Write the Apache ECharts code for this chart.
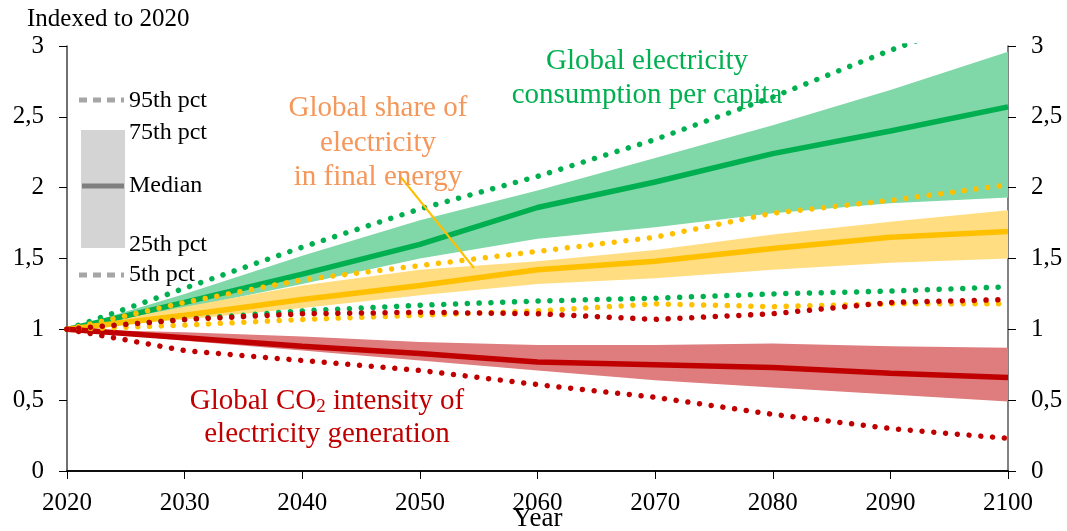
<!DOCTYPE html>
<html>
<head>
<meta charset="utf-8">
<script src="https://cdn.jsdelivr.net/npm/echarts@6/dist/echarts.min.js"></script>
<style>
html,body{margin:0;padding:0;background:#fff;}
#c{width:1067px;height:531px;}
</style>
</head>
<body>
<div id="c"></div>
<script>
const years = [2020, 2030, 2040, 2050, 2060, 2070, 2080, 2090, 2100];
const yTicks = [0, 0.5, 1, 1.5, 2, 2.5, 3];

// Global electricity consumption per capita
const greenMedian = [1, 1.19, 1.39, 1.60, 1.86, 2.04, 2.24, 2.40, 2.57];
const greenP75    = [1, 1.25, 1.52, 1.77, 1.98, 2.21, 2.44, 2.69, 2.96];
const greenP25    = [1, 1.15, 1.32, 1.50, 1.64, 1.72, 1.82, 1.89, 1.93];
const greenP95    = [1, 1.29, 1.58, 1.85, 2.08, 2.34, 2.64, 2.97, 3.27];
const greenP5     = [1, 1.07, 1.13, 1.17, 1.20, 1.22, 1.25, 1.27, 1.30];

// Global share of electricity in final energy
const orangeMedian = [1, 1.10, 1.21, 1.31, 1.42, 1.48, 1.57, 1.65, 1.69];
const orangeP75    = [1, 1.16, 1.31, 1.42, 1.48, 1.56, 1.67, 1.76, 1.84];
const orangeP25    = [1, 1.07, 1.15, 1.24, 1.32, 1.36, 1.42, 1.47, 1.50];
const orangeP95    = [1, 1.19, 1.35, 1.45, 1.55, 1.65, 1.82, 1.91, 2.02];
const orangeP5     = [1, 1.03, 1.07, 1.10, 1.13, 1.18, 1.16, 1.18, 1.18];

// Global CO2 intensity of electricity generation
const redMedian = [1, 0.94, 0.88, 0.83, 0.77, 0.75, 0.73, 0.69, 0.66];
const redP75    = [1, 0.98, 0.95, 0.91, 0.89, 0.89, 0.90, 0.88, 0.87];
const redP25    = [1, 0.92, 0.85, 0.78, 0.71, 0.64, 0.59, 0.54, 0.49];
const redP95    = [1, 1.07, 1.11, 1.12, 1.11, 1.07, 1.11, 1.19, 1.21];
const redP5     = [1, 0.85, 0.78, 0.71, 0.61, 0.52, 0.40, 0.30, 0.23];

const FONT = '"Liberation Serif", "Times New Roman", serif';
const pairs = arr => years.map((y, i) => [y, arr[i]]);

function band(name, lower, upper, color) {
  return {
    name: name, type: 'custom', silent: true, z: 1, clip: true,
    data: years.map((y, i) => [y, lower[i], upper[i]]),
    renderItem: function (params, api) {
      if (params.dataIndex !== 0) return null;
      const pts = [];
      for (let i = 0; i < years.length; i++) pts.push(api.coord([years[i], upper[i]]));
      for (let i = years.length - 1; i >= 0; i--) pts.push(api.coord([years[i], lower[i]]));
      return { type: 'polygon', shape: { points: pts }, style: { fill: color } };
    }
  };
}
function medianLine(name, arr, color) {
  return { name: name, type: 'line', data: pairs(arr), symbol: 'none',
    lineStyle: { color: color, width: 5.5 }, z: 3 };
}
function dotLine(name, arr, color) {
  return { name: name, type: 'line', data: pairs(arr), symbol: 'none',
    lineStyle: { color: color, width: 5.5, type: [0.001, 11.8], cap: 'round' }, z: 4 };
}

const series = [
  band('green band', greenP25, greenP75, '#80D7A8'),
  band('orange band', orangeP25, orangeP75, '#FFDD80'),
  band('red band', redP25, redP75, '#DE7C7E'),
  medianLine('green median', greenMedian, '#00B050'),
  medianLine('orange median', orangeMedian, '#FFC000'),
  medianLine('red median', redMedian, '#C00000'),
  dotLine('green p95', greenP95, '#00B050'),
  dotLine('green p5', greenP5, '#00B050'),
  dotLine('orange p95', orangeP95, '#FFC000'),
  dotLine('orange p5', orangeP5, '#FFC000'),
  dotLine('red p95', redP95, '#C00000'),
  dotLine('red p5', redP5, '#C00000')
];

const fmt = v => String(v).replace('.', ',');
const chart = echarts.init(document.getElementById('c'), null, { renderer: 'canvas' });
const lblStyle = { fontFamily: FONT, fontSize: 24, fill: '#000', verticalAlign: 'middle' };
const lbl = (x, y, t) => ({ type: 'text', x: x, y: y, z: 10, style: Object.assign({ text: t }, lblStyle) });

chart.setOption({
  animation: false,
  backgroundColor: '#fff',
  grid: { left: 67, right: 59, top: 46, bottom: 60, containLabel: false, outerBoundsMode: 'none' },
  xAxis: [
    { type: 'value', min: 2020, max: 2100, interval: 10, position: 'bottom',
      name: 'Year', nameLocation: 'middle', nameGap: 34, nameMoveOverlap: false,
      nameTextStyle: { fontFamily: FONT, fontSize: 27, color: '#000' },
      axisLine: { show: true, lineStyle: { color: '#000', width: 1.5 } },
      axisTick: { show: true, length: 8, lineStyle: { color: '#000' } },
      axisLabel: { fontFamily: FONT, fontSize: 25, color: '#000', margin: 20, formatter: v => String(v) },
      splitLine: { show: false } },
    { type: 'value', min: 2020, max: 2100, position: 'top',
      axisLine: { show: true, lineStyle: { color: '#000', width: 1.5 } },
      axisTick: { show: false }, axisLabel: { show: false }, splitLine: { show: false } }
  ],
  yAxis: [
    { type: 'value', min: 0, max: 3, interval: 0.5, position: 'left',
      axisLine: { show: true, lineStyle: { color: '#404040', width: 1.5 } },
      axisTick: { show: true, length: 8, lineStyle: { color: '#000' } },
      axisLabel: { fontFamily: FONT, fontSize: 25, color: '#000', margin: 23, formatter: fmt },
      splitLine: { show: false } },
    { type: 'value', min: 0, max: 3, interval: 0.5, position: 'right',
      axisLine: { show: true, lineStyle: { color: '#595959', width: 1.5 } },
      axisTick: { show: true, length: 8, lineStyle: { color: '#000' } },
      axisLabel: { fontFamily: FONT, fontSize: 25, color: '#000', margin: 23, formatter: fmt },
      splitLine: { show: false } }
  ],
  series: series,
  graphic: [
    { type: 'text', x: 27, y: 19, style: { text: 'Indexed to 2020', fontFamily: FONT, fontSize: 25, fill: '#000', verticalAlign: 'middle' } },
    // legend
    { type: 'line', shape: { x1: 79, y1: 100, x2: 124, y2: 100 }, style: { stroke: '#A6A6A6', lineWidth: 5, lineDash: [8, 6] }, z: 10 },
    { type: 'rect', shape: { x: 81, y: 130, width: 44, height: 118 }, style: { fill: '#D4D4D4' }, z: 10 },
    { type: 'line', shape: { x1: 82, y1: 186, x2: 124, y2: 186 }, style: { stroke: '#7F7F7F', lineWidth: 5 }, z: 11 },
    { type: 'line', shape: { x1: 79, y1: 275, x2: 124, y2: 275 }, style: { stroke: '#A6A6A6', lineWidth: 5, lineDash: [8, 6] }, z: 10 },
    lbl(129, 101, '95th pct'),
    lbl(129, 133, '75th pct'),
    lbl(129, 186, 'Median'),
    lbl(129, 245, '25th pct'),
    lbl(129, 275, '5th pct'),
    // annotations
    { type: 'text', x: 647, y: 78, style: { text: 'Global electricity\nconsumption per capita', align: 'center', verticalAlign: 'middle',
        fontFamily: FONT, fontSize: 29, lineHeight: 34, fill: '#00B050' }, z: 10 },
    { type: 'text', x: 378, y: 143, style: { text: 'Global share of\nelectricity\nin final energy', align: 'center', verticalAlign: 'middle',
        fontFamily: FONT, fontSize: 29, lineHeight: 34.5, fill: '#F5975A' }, z: 10 },
    { type: 'line', shape: { x1: 400, y1: 176, x2: 474, y2: 268 }, style: { stroke: '#FFC000', lineWidth: 2 }, z: 9 },
    { type: 'text', x: 327, y: 418, style: { text: 'Global CO{s|2} intensity of\nelectricity generation', align: 'center', verticalAlign: 'middle',
        fontFamily: FONT, fontSize: 29, lineHeight: 33, fill: '#C00000',
        rich: { s: { fontFamily: FONT, fontSize: 19, fill: '#C00000', padding: [12, 0, 0, 0] } } }, z: 10 }
  ]
});
</script>
</body>
</html>
